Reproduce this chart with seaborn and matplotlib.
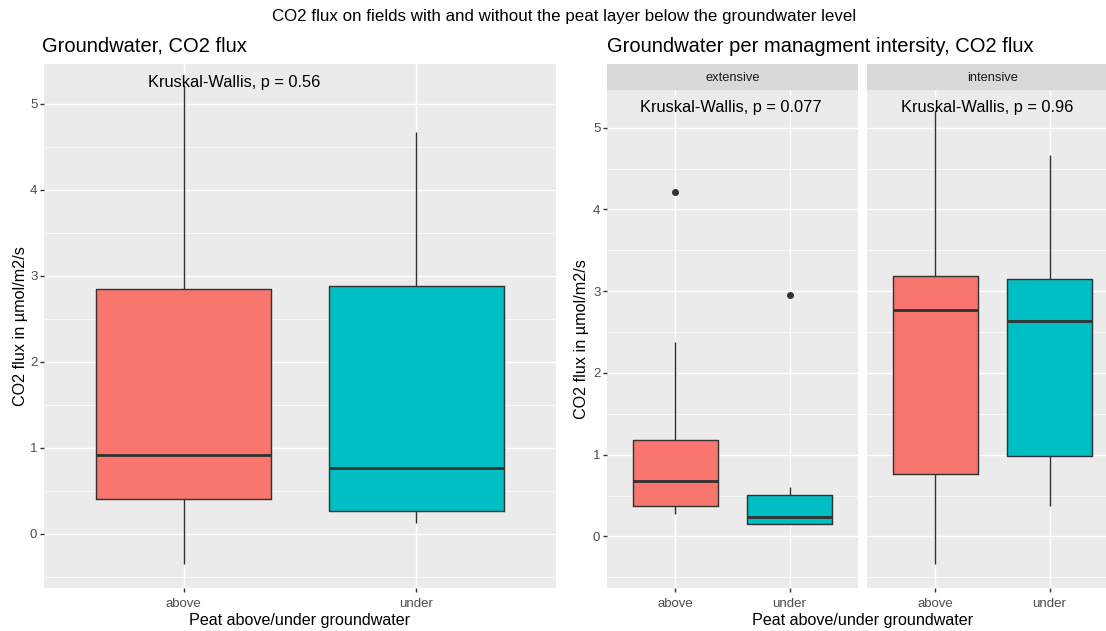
import numpy as np
import pandas as pd
import matplotlib
matplotlib.use("Agg")
import matplotlib.pyplot as plt
from matplotlib.ticker import MultipleLocator
import seaborn as sns

# CO2 flux samples (µmol/m2/s) per peat position
peat_levels = ["above", "under"]
intensity_levels = ["extensive", "intensive"]

flux_all_above = [-0.35, 0.41, 0.91, 2.85, 5.22]
flux_all_under = [0.13, 0.26, 0.77, 2.88, 4.67]

flux_ext_above = [0.27, 0.32, 0.37, 0.52, 0.68, 0.95, 1.18, 2.38, 4.21]
flux_ext_under = [0.15, 0.15, 0.15, 0.20, 0.24, 0.40, 0.51, 0.61, 2.95]
flux_int_above = [-0.34, 0.77, 2.77, 3.18, 5.22]
flux_int_under = [0.37, 0.98, 2.63, 3.15, 4.66]

p_all = "0.56"
p_ext = "0.077"
p_int = "0.96"

palette = {"above": "#F8766D", "under": "#00BFC4"}


def long_frame(groups):
    rows = []
    for (intensity, peat), vals in groups.items():
        for v in vals:
            rows.append({"intensity": intensity, "peat": peat, "flux": v})
    return pd.DataFrame(rows)


df_all = long_frame({("all", "above"): flux_all_above,
                     ("all", "under"): flux_all_under})
df_fac = long_frame({("extensive", "above"): flux_ext_above,
                     ("extensive", "under"): flux_ext_under,
                     ("intensive", "above"): flux_int_above,
                     ("intensive", "under"): flux_int_under})

sns.set_theme(style="darkgrid")
plt.rcParams["font.family"] = ["Liberation Sans", "DejaVu Sans"]

W, H = 1106, 631
fig = plt.figure(figsize=(W / 100, H / 100), dpi=100)


def frac_box(x0, y_top, w, h):
    return [x0 / W, 1 - (y_top + h) / H, w / W, h / H]


TICK_FS = 9.5
STRIP_FS = 9.3
LAB_FS = 11.6
NOTE_FS = 11.8
TITLE_FS = 14.5
SUP_FS = 12.2
YLIM = (-0.63, 5.46)


def style_axis(ax, show_y=True):
    ax.set_facecolor("#EBEBEB")
    for s in ax.spines.values():
        s.set_visible(False)
    ax.set_xlim(-0.6, 1.6)
    ax.set_ylim(*YLIM)
    ax.yaxis.set_major_locator(MultipleLocator(1))
    ax.yaxis.set_minor_locator(MultipleLocator(0.5))
    ax.set_axisbelow(True)
    ax.grid(False)
    ax.grid(which="major", axis="both", color="white", linewidth=1.02)
    ax.grid(which="minor", axis="y", color="white", linewidth=0.51)
    ax.tick_params(which="major", length=2.7, width=1.02, color="#333333",
                   labelcolor="#4D4D4D", labelsize=TICK_FS, pad=2.1,
                   bottom=True, left=show_y, labelleft=show_y)
    ax.tick_params(axis="x", which="major", pad=4.5)
    ax.tick_params(which="minor", length=0)
    ax.set_xlabel("")
    ax.set_ylabel("")


def draw_boxes(ax, data):
    sns.boxplot(data=data, x="peat", y="flux", hue="peat", order=peat_levels,
                hue_order=peat_levels, palette=palette, saturation=1,
                width=0.75, linecolor="#333333", linewidth=1.02,
                showcaps=False, legend=False, ax=ax,
                medianprops=dict(linewidth=2.05, color="#333333"),
                flierprops=dict(marker="o", markersize=4,
                                markerfacecolor="#333333",
                                markeredgecolor="#333333"))


# Left: all fields
ax_all = fig.add_axes(frac_box(44, 64, 512, 524))
draw_boxes(ax_all, df_all)
style_axis(ax_all)
ax_all.text(0.203, 5.24, f"Kruskal-Wallis, p = {p_all}", ha="left", va="center",
            fontsize=NOTE_FS, color="black", transform=ax_all.get_yaxis_transform())
ax_all.set_ylabel("CO2 flux in µmol/m2/s", fontsize=LAB_FS, color="black")
ax_all.yaxis.set_label_coords(-0.031, 0.5)
fig.text(300 / W, 1 - 621 / H, "Peat above/under groundwater", ha="center",
         va="center", fontsize=LAB_FS, color="black")

# Right: faceted by management intensity
facet_x = {"extensive": 607, "intensive": 867}
p_vals = {"extensive": p_ext, "intensive": p_int}
text_x = {"extensive": 0.131, "intensive": 0.135}
fac_axes = {}
for i, level in enumerate(intensity_levels):
    ax = fig.add_axes(frac_box(facet_x[level], 90, 251, 498))
    draw_boxes(ax, df_fac[df_fac["intensity"] == level])
    style_axis(ax, show_y=(i == 0))
    ax.text(text_x[level], 5.24, f"Kruskal-Wallis, p = {p_vals[level]}",
            ha="left", va="center", fontsize=NOTE_FS, color="black",
            transform=ax.get_yaxis_transform())
    strip = fig.add_axes(frac_box(facet_x[level], 64, 251, 26))
    strip.set_facecolor("#D9D9D9")
    strip.set_xticks([])
    strip.set_yticks([])
    for s in strip.spines.values():
        s.set_visible(False)
    strip.text(0.5, 0.45, level, ha="center", va="center", fontsize=STRIP_FS,
               color="#1A1A1A", transform=strip.transAxes)
    fac_axes[level] = ax

fac_axes["extensive"].set_ylabel("CO2 flux in µmol/m2/s", fontsize=LAB_FS,
                                 color="black")
fac_axes["extensive"].yaxis.set_label_coords(-0.072, 0.5)
fig.text(862.5 / W, 1 - 621 / H, "Peat above/under groundwater", ha="center",
         va="center", fontsize=LAB_FS, color="black")

# Titles
fig.text(42 / W, 1 - 46 / H, "Groundwater, CO2 flux", ha="left", va="center",
         fontsize=TITLE_FS, color="black")
fig.text(607 / W, 1 - 46 / H, "Groundwater per managment intersity, CO2 flux",
         ha="left", va="center", fontsize=TITLE_FS, color="black")
fig.text(564 / W, 1 - 17 / H,
         "CO2 flux on fields with and without the peat layer below the groundwater level",
         ha="center", va="center", fontsize=SUP_FS, color="black")

fig.savefig("out.png", dpi=100)
